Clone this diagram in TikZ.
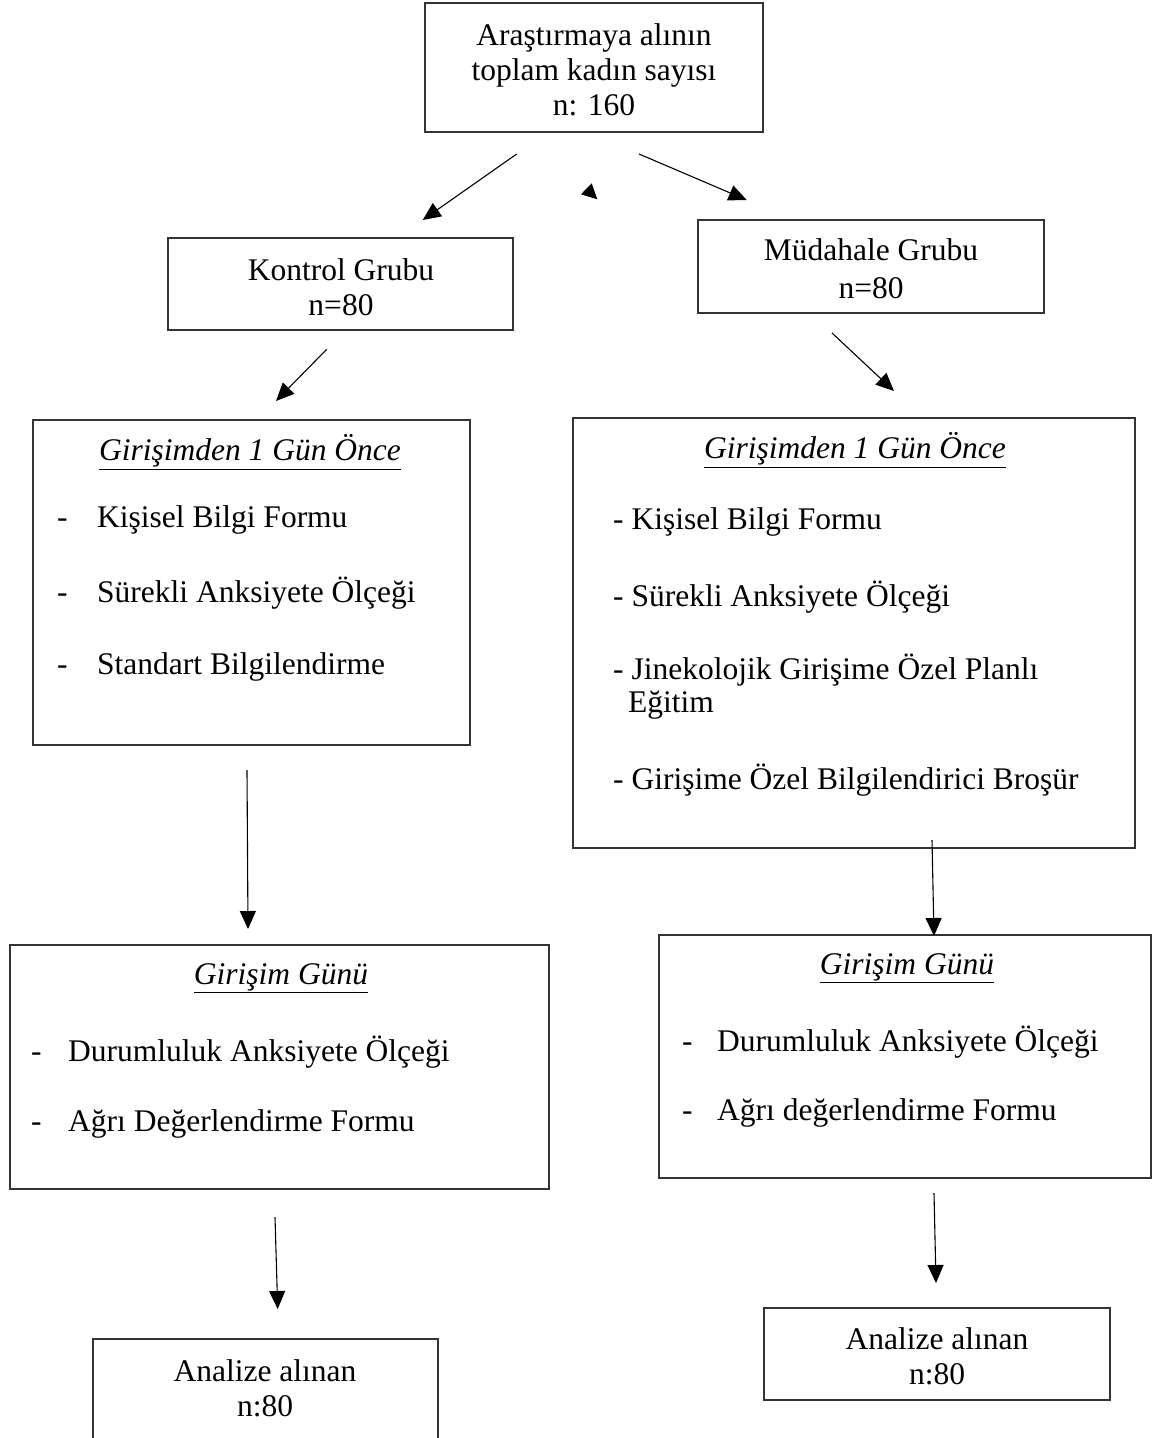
\documentclass[tikz,border=0pt]{standalone}
\usepackage{fontspec}
\setmainfont{Liberation Serif}
\usetikzlibrary{arrows.meta}
\begin{document}
\begin{tikzpicture}[x=1pt,y=-1pt,
  box/.style={draw=black!80,line width=1.3pt,inner sep=0pt},
  txt/.style={inner sep=0pt,align=center,font=\fontsize{31.5}{35}\selectfont},
  ltxt/.style={inner sep=0pt,anchor=west,font=\fontsize{31.5}{35}\selectfont},
  dsh/.style={inner sep=0pt,anchor=base west,font=\fontsize{31.5}{35}\selectfont},
  arr/.style={line width=1.1pt,-{Triangle[length=18pt,width=16pt]}}]
\useasboundingbox (0,0) rectangle (1155,1438);
\clip (0,0) rectangle (1155,1438);
% boxes
\node[box,minimum width=338pt,minimum height=129pt] (top) at (594,67.5) {};
\node[box,minimum width=345pt,minimum height=92pt] (kon) at (340.5,284) {};
\node[box,minimum width=346pt,minimum height=93pt] (mud) at (871,266.5) {};
\node[box,minimum width=437pt,minimum height=325pt] (l1) at (251.5,582.5) {};
\node[box,minimum width=562pt,minimum height=430pt] (r1) at (854,633) {};
\node[box,minimum width=539pt,minimum height=244pt] (l2) at (279.5,1067) {};
\node[box,minimum width=492pt,minimum height=243pt] (r2) at (905,1056.5) {};
\node[box,minimum width=345pt,minimum height=121pt] (l3) at (265.5,1399.5) {};
\node[box,minimum width=346pt,minimum height=92pt] (r3) at (937,1354) {};
% texts
\node[txt] (ttop) at (594,70) {Araştırmaya alının\\toplam kadın sayısı\\n: 160};
\node[txt] (tkon) at (341,287) {Kontrol Grubu\\n=80};
\node[txt,font=\fontsize{31.5}{38}\selectfont] (tmud) at (871,269) {Müdahale Grubu\\n=80};
% left box 1
\node[txt] (l1t) at (250,452) {\underline{\textit{Girişimden 1 Gün Önce}}};
\node[ltxt] (l1a) at (97,520) {Kişisel Bilgi Formu};
\node[ltxt] (l1b) at (97,593) {Sürekli Anksiyete Ölçeği};
\node[ltxt] (l1c) at (97,667) {Standart Bilgilendirme};
\node[dsh] (l1d1) at (l1a.base -| 57,0) {-};
\node[dsh] (l1d2) at (l1b.base -| 57,0) {-};
\node[dsh] (l1d3) at (l1c.base -| 57,0) {-};
% right box 1
\node[txt] (r1t) at (855,450) {\underline{\textit{Girişimden 1 Gün Önce}}};
\node[ltxt] (r1a) at (613,522) {- Kişisel Bilgi Formu};
\node[ltxt] (r1b) at (613,597) {- Sürekli Anksiyete Ölçeği};
\node[ltxt] (r1c) at (613,670) {- Jinekolojik Girişime Özel Planlı};
\node[ltxt] (r1c2) at (628,705) {Eğitim};
\node[ltxt] (r1d) at (613,780) {- Girişime Özel Bilgilendirici Broşür};
% left box 2
\node[txt] (l2t) at (281,978) {\underline{\textit{Girişim Günü}}};
\node[ltxt] (l2a) at (68,1052) {Durumluluk Anksiyete Ölçeği};
\node[ltxt] (l2b) at (68,1124) {Ağrı Değerlendirme Formu};
\node[dsh] (l2d1) at (l2a.base -| 31,0) {-};
\node[dsh] (l2d2) at (l2b.base -| 31,0) {-};
% right box 2
\node[txt] (r2t) at (907,968) {\underline{\textit{Girişim Günü}}};
\node[ltxt] (r2a) at (717,1042) {Durumluluk Anksiyete Ölçeği};
\node[ltxt] (r2b) at (717,1113) {Ağrı değerlendirme Formu};
\node[dsh] (r2d1) at (r2a.base -| 682,0) {-};
\node[dsh] (r2d2) at (r2b.base -| 682,0) {-};
% bottom boxes
\node[txt] (tl3) at (265,1388) {Analize alınan\\n:80};
\node[txt] (tr3) at (937,1356) {Analize alınan\\n:80};
% arrow endpoints
\coordinate (a1s) at (516.7,154); \coordinate (a1e) at (422.7,220);
\coordinate (a2s) at (639,154);   \coordinate (a2e) at (746.7,200);
\coordinate (a3s) at (326.7,349.3); \coordinate (a3e) at (276,401);
\coordinate (a4s) at (832,333);   \coordinate (a4e) at (894,391);
\coordinate (a5s) at (247,770);   \coordinate (a5e) at (248,929);
\coordinate (a6s) at (932,840);   \coordinate (a6e) at (934,936);
\coordinate (a7s) at (275,1217);  \coordinate (a7e) at (277.7,1309);
\coordinate (a8s) at (934,1193);  \coordinate (a8e) at (936,1283);
\draw[arr] (a1s) -- (a1e);
\draw[arr] (a2s) -- (a2e);
\draw[arr] (a3s) -- (a3e);
\draw[arr] (a4s) -- (a4e);
\draw[arr] (a5s) -- (a5e);
\draw[arr] (a6s) -- (a6e);
\draw[arr] (a7s) -- (a7e);
\draw[arr] (a8s) -- (a8e);
% stray arrowhead
\fill (591.7,183.3) -- (581,194.3) -- (597.3,199.3) -- cycle;
\end{tikzpicture}
\end{document}
